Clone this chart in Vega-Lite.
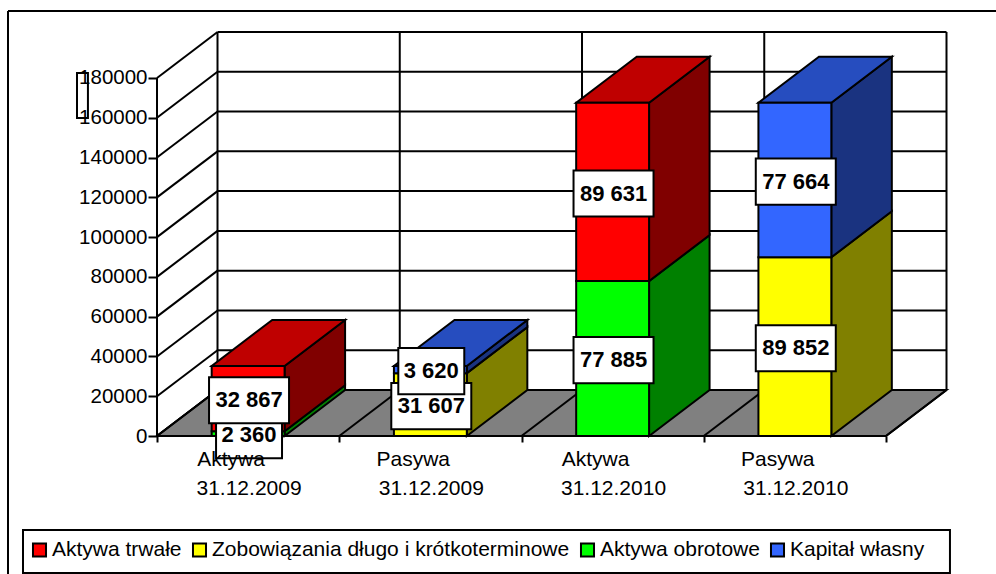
{
"$schema":"https://vega.github.io/schema/vega-lite/v6.json",
"width":988,"height":563,
"autosize":{"type":"none"},
"padding":{"left":8,"top":11,"right":0,"bottom":0},
"background":"white",
"config":{"view":{"stroke":null},"legend":{"padding":0}},
"datasets":{
"slupki":[
{"kat":"Aktywa","rok":"31.12.2009","pos":0,"seria":"Aktywa obrotowe","wartosc":2360,"etykieta":"2 360"},
{"kat":"Aktywa","rok":"31.12.2009","pos":0,"seria":"Aktywa trwałe","wartosc":32867,"etykieta":"32 867"},
{"kat":"Pasywa","rok":"31.12.2009","pos":1,"seria":"Zobowiązania długo i krótkoterminowe","wartosc":31607,"etykieta":"31 607"},
{"kat":"Pasywa","rok":"31.12.2009","pos":1,"seria":"Kapitał własny","wartosc":3620,"etykieta":"3 620"},
{"kat":"Aktywa","rok":"31.12.2010","pos":2,"seria":"Aktywa obrotowe","wartosc":77885,"etykieta":"77 885"},
{"kat":"Aktywa","rok":"31.12.2010","pos":2,"seria":"Aktywa trwałe","wartosc":89631,"etykieta":"89 631"},
{"kat":"Pasywa","rok":"31.12.2010","pos":3,"seria":"Zobowiązania długo i krótkoterminowe","wartosc":89852,"etykieta":"89 852"},
{"kat":"Pasywa","rok":"31.12.2010","pos":3,"seria":"Kapitał własny","wartosc":77664,"etykieta":"77 664"}
],
"podzialka":[{"v":0},{"v":20000},{"v":40000},{"v":60000},{"v":80000},{"v":100000},{"v":120000},{"v":140000},{"v":160000},{"v":180000}],
"granice":[{"g":0},{"g":1},{"g":2},{"g":3},{"g":4}]
},
"layer":[
{"data":{"name":"podzialka"},
 "transform":[{"calculate":"0","as":"a"},{"calculate":"0.332","as":"b"},{"calculate":"datum.v+23128","as":"vb"}],
 "mark":{"type":"rule","stroke":"black","strokeWidth":2},
 "encoding":{
  "x":{"field":"a","type":"quantitative","scale":{"domain":[-0.8176,4.6036],"nice":false,"zero":false},
   "axis":{"values":[0,1,2,3,4],"labels":false,"title":null,"grid":false,"domain":false,"offset":-138,"tickSize":6,"tickWidth":2,"tickColor":"black"}},
  "x2":{"field":"b"},
  "y":{"field":"v","type":"quantitative","scale":{"domain":[-69385,213686],"nice":false,"zero":false},
   "axis":{"values":[0,20000,40000,60000,80000,100000,120000,140000,160000,180000],"format":"d","title":null,"grid":false,"domain":false,"offset":-149,"tickSize":9,"tickWidth":2,"tickColor":"black","labelFont":"Liberation Sans","labelFontSize":20.5,"labelColor":"black","labelPadding":1,"labelOverlap":false,"labelBound":false}},
  "y2":{"field":"vb"}}},
{"data":{"name":"podzialka"},
 "transform":[{"calculate":"0.332","as":"a"},{"calculate":"4.332","as":"b"},{"calculate":"datum.v+23128","as":"vb"}],
 "mark":{"type":"rule","stroke":"black","strokeWidth":2},
 "encoding":{"x":{"field":"a","type":"quantitative"},"x2":{"field":"b"},"y":{"field":"vb","type":"quantitative"}}},
{"data":{"name":"granice"},
 "transform":[{"calculate":"datum.g+0.332","as":"a"},{"calculate":"23128","as":"v0"},{"calculate":"203128","as":"v1"}],
 "mark":{"type":"rule","stroke":"black","strokeWidth":2},
 "encoding":{"x":{"field":"a","type":"quantitative"},"y":{"field":"v0","type":"quantitative"},"y2":{"field":"v1"}}},
{"data":{"values":[{"k":0},{"k":1}]},
 "transform":[{"calculate":"datum.k*0.332","as":"a"},{"calculate":"4+datum.k*0.332","as":"b"},{"calculate":"datum.k*23128","as":"v"}],
 "mark":{"type":"area","orient":"horizontal","fill":"#808080","stroke":"black","strokeWidth":2},
 "encoding":{"y":{"field":"v","type":"quantitative"},"x":{"field":"a","type":"quantitative"},"x2":{"field":"b"}}},
{"data":{"name":"granice"},
 "transform":[{"calculate":"datum.g+0.332","as":"b"},{"calculate":"0","as":"v0"},{"calculate":"23128","as":"v1"}],
 "mark":{"type":"rule","stroke":"black","strokeWidth":2},
 "encoding":{"x":{"field":"g","type":"quantitative"},"x2":{"field":"b"},"y":{"field":"v0","type":"quantitative"},"y2":{"field":"v1"}}},
{"data":{"values":[{"a":0,"v0":0,"v1":180000}]},
 "mark":{"type":"rule","stroke":"black","strokeWidth":2},
 "encoding":{"x":{"field":"a","type":"quantitative"},"y":{"field":"v0","type":"quantitative"},"y2":{"field":"v1"}}},
{"data":{"name":"slupki"},
 "transform":[{"stack":"wartosc","groupby":["pos"],"as":["y0","y1"]},
  {"calculate":"[0,1]","as":"k"},{"flatten":["k"]},
  {"calculate":"datum.pos+0.70+datum.k*0.332","as":"xs"},
  {"calculate":"datum.y0+datum.k*23128","as":"d"},{"calculate":"datum.y1+datum.k*23128","as":"g"}],
 "mark":{"type":"area","stroke":"black","strokeWidth":2},
 "encoding":{"x":{"field":"xs","type":"quantitative"},"y":{"field":"g","type":"quantitative"},"y2":{"field":"d"},
  "detail":{"field":"pos"},
  "color":{"field":"seria","type":"nominal","legend":null,"scale":{"domain":["Aktywa trwałe","Zobowiązania długo i krótkoterminowe","Aktywa obrotowe","Kapitał własny"],"range":["#800000","#808000","#008000","#1a3380"]}}}},
{"data":{"name":"slupki"},
 "transform":[{"stack":"wartosc","groupby":["pos"],"as":["y0","y1"]},
  {"filter":"datum.seria=='Aktywa trwałe'||datum.seria=='Kapitał własny'"},
  {"calculate":"[0,1]","as":"k"},{"flatten":["k"]},
  {"calculate":"datum.pos+0.30+datum.k*0.332","as":"xl"},
  {"calculate":"datum.pos+0.70+datum.k*0.332","as":"xp"},
  {"calculate":"datum.y1+datum.k*23128","as":"g"}],
 "mark":{"type":"area","orient":"horizontal","stroke":"black","strokeWidth":2},
 "encoding":{"y":{"field":"g","type":"quantitative"},"x":{"field":"xl","type":"quantitative"},"x2":{"field":"xp"},
  "detail":{"field":"pos"},
  "color":{"field":"seria","type":"nominal","legend":null,"scale":{"domain":["Aktywa trwałe","Kapitał własny"],"range":["#bf0000","#264dbf"]}}}},
{"data":{"name":"slupki"},
 "transform":[{"stack":"wartosc","groupby":["pos"],"as":["y0","y1"]},
  {"calculate":"datum.pos+0.30","as":"xl"},{"calculate":"datum.pos+0.70","as":"xp"}],
 "mark":{"type":"rect","stroke":"black","strokeWidth":2},
 "encoding":{"x":{"field":"xl","type":"quantitative"},"x2":{"field":"xp"},"y":{"field":"y0","type":"quantitative"},"y2":{"field":"y1"},
  "color":{"field":"seria","type":"nominal","title":null,
   "scale":{"domain":["Aktywa trwałe","Zobowiązania długo i krótkoterminowe","Aktywa obrotowe","Kapitał własny"],"range":["#ff0000","#ffff00","#00ff00","#3366ff"]},
   "legend":{"orient":"none","legendX":21,"legendY":528,"direction":"horizontal","columns":4,"columnPadding":6,"symbolType":"square","symbolSize":170,"symbolStrokeColor":"black","symbolStrokeWidth":2,"symbolOpacity":1,"labelFont":"Liberation Sans","labelFontSize":21,"labelColor":"black","labelLimit":500,"labelOffset":2}}}},
{"data":{"name":"slupki"},
 "transform":[{"stack":"wartosc","groupby":["pos"],"as":["y0","y1"]},
  {"calculate":"(datum.y0+datum.y1)/2-800","as":"m"},
  {"calculate":"length(datum.etykieta)>5?0.2195:0.181","as":"pol"},
  {"calculate":"datum.pos+0.505-datum.pol","as":"b0"},{"calculate":"datum.pos+0.505+datum.pol","as":"b1"},
  {"calculate":"datum.m-11600","as":"w0"},{"calculate":"datum.m+11600","as":"w1"}],
 "mark":{"type":"rect","fill":"white","stroke":"black","strokeWidth":2},
 "encoding":{"x":{"field":"b0","type":"quantitative"},"x2":{"field":"b1"},"y":{"field":"w0","type":"quantitative"},"y2":{"field":"w1"}}},
{"data":{"name":"slupki"},
 "transform":[{"stack":"wartosc","groupby":["pos"],"as":["y0","y1"]},
  {"calculate":"(datum.y0+datum.y1)/2-800","as":"m"},
  {"calculate":"datum.pos+0.505","as":"c"}],
 "mark":{"type":"text","font":"Liberation Sans","fontWeight":"bold","fontSize":22,"baseline":"middle","align":"center","color":"black"},
 "encoding":{"x":{"field":"c","type":"quantitative"},"y":{"field":"m","type":"quantitative"},"text":{"field":"etykieta"}}},
{"data":{"values":[{"kat":"Aktywa","rok":"31.12.2009","pos":0},{"kat":"Pasywa","rok":"31.12.2009","pos":1},{"kat":"Aktywa","rok":"31.12.2010","pos":2},{"kat":"Pasywa","rok":"31.12.2010","pos":3}]},
 "transform":[{"calculate":"datum.pos+0.505","as":"c"},{"calculate":"0","as":"z"}],
 "layer":[
 {"mark":{"type":"text","font":"Liberation Sans","fontSize":21,"baseline":"middle","align":"center","color":"black","dy":24,"dx":-18},
  "encoding":{"x":{"field":"c","type":"quantitative"},"y":{"field":"z","type":"quantitative"},"text":{"field":"kat"}}},
 {"mark":{"type":"text","font":"Liberation Sans","fontSize":21,"baseline":"middle","align":"center","color":"black","dy":53},
  "encoding":{"x":{"field":"c","type":"quantitative"},"y":{"field":"z","type":"quantitative"},"text":{"field":"rok"}}}
 ]},
{"data":{"values":[{"a":-0.439,"b":-0.379,"g":182510,"d":159890}]},
 "mark":{"type":"rect","fill":null,"stroke":"black","strokeWidth":2},
 "encoding":{"x":{"field":"a","type":"quantitative"},"x2":{"field":"b"},"y":{"field":"g","type":"quantitative"},"y2":{"field":"d"}}},
{"data":{"values":[{"a":-0.7353,"b":4.351,"g":-47262,"d":-68882}]},
 "mark":{"type":"rect","fill":null,"stroke":"black","strokeWidth":2},
 "encoding":{"x":{"field":"a","type":"quantitative"},"x2":{"field":"b"},"y":{"field":"g","type":"quantitative"},"y2":{"field":"d"}}},
{"data":{"values":[{"a":-0.8176,"b":4.6036,"g":213686,"d":-69385}]},
 "layer":[
 {"mark":{"type":"rule","stroke":"black","strokeWidth":2,"clip":false},"encoding":{"x":{"field":"a","type":"quantitative"},"x2":{"field":"b"},"y":{"field":"g","type":"quantitative"}}},
 {"mark":{"type":"rule","stroke":"black","strokeWidth":2,"clip":false},"encoding":{"x":{"field":"a","type":"quantitative"},"y":{"field":"g","type":"quantitative"},"y2":{"field":"d"}}}
 ]}
],
"resolve":{"scale":{"color":"independent"}}
}
